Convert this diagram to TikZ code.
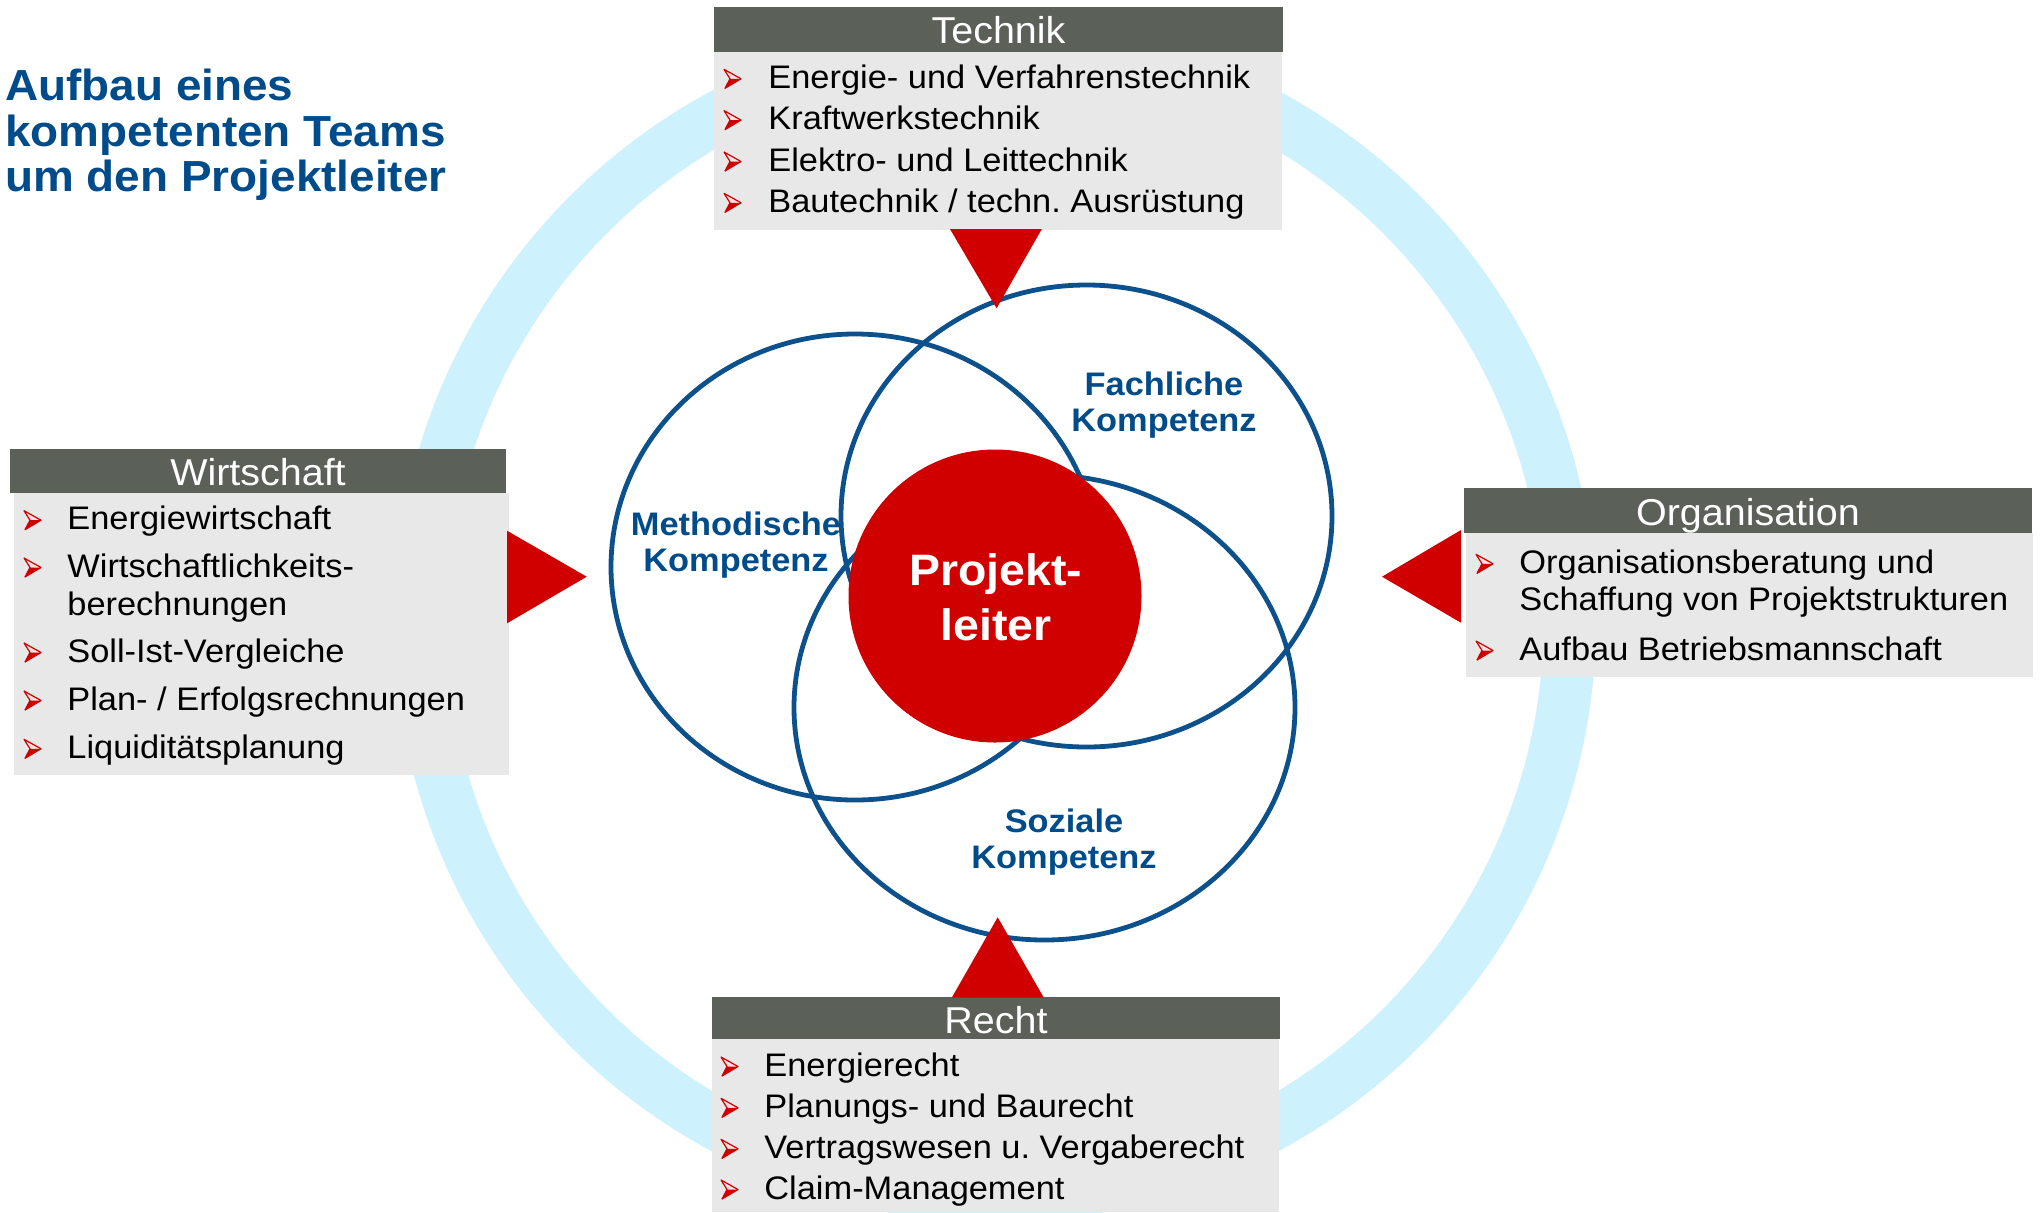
\documentclass[tikz,border=0pt]{standalone}
\usepackage{fontspec}
\setmainfont{Liberation Sans}[FakeStretch=1.055]
\definecolor{ringc}{RGB}{205,242,253}
\definecolor{hdr}{RGB}{91,97,89}
\definecolor{bodyc}{RGB}{232,232,232}
\definecolor{redc}{RGB}{208,0,0}
\definecolor{blu}{RGB}{0,76,138}
\definecolor{cline}{RGB}{12,80,140}
\tikzset{
  hdrbox/.style={fill=hdr},
  bodybox/.style={fill=bodyc},
  tri/.style={fill=redc},
  compc/.style={draw=cline, line width=2.4pt},
  hdrtxt/.style={text=white, font=\fontsize{18.7}{20}\selectfont, inner sep=0pt, anchor=base},
  itemtxt/.style={text=black, font=\fontsize{16.3}{18}\selectfont, inner sep=0pt, anchor=base west},
  lbl/.style={text=blu, font=\bfseries\fontsize{16.3}{18}\selectfont, inner sep=0pt, anchor=base},
  pltxt/.style={text=white, font=\bfseries\fontsize{22}{24}\selectfont, inner sep=0pt, anchor=base},
  ttl/.style={text=blu, font=\bfseries\fontsize{21.75}{23}\selectfont, inner sep=0pt, anchor=base west},
  bul/.pic={
    \fill[redc!12!white] (0,-19) -- (17,-9.5) -- (6,-9.5) -- cycle;
    \fill[redc] (1,0) -- (17,-9.5) -- (6,-9.5) -- cycle;
    \draw[redc, line width=0.6pt, line join=round] (0,-19) -- (17,-9.5) -- (1,0) -- (6,-9.5) -- cycle;
  }
}
\frenchspacing
\begin{document}
\frenchspacing
\begin{tikzpicture}[x=0.5pt, y=-0.5pt]
\useasboundingbox[fill=white] (0,0) rectangle (2040,1212);

% light ring
\draw[ringc, line width=26.25pt] (995,621) circle [radius=287.4pt];

% competence ellipses
\draw[compc] (855,567) ellipse [x radius=122pt, y radius=116.5pt];
\draw[compc] (1086.5,516) ellipse [x radius=122.75pt, y radius=115.5pt];
\draw[compc] (1044.5,707.5) ellipse [x radius=125.25pt, y radius=116.25pt];

% Projektleiter
\node (pl) [circle, fill=redc, minimum size=146.5pt, inner sep=0pt] at (995,596) {};
\node (pl1) [pltxt] at (996,585.8) {Projekt-};
\node (pl2) [pltxt] at (996,640.7) {leiter};

% competence labels
\node (m1) [lbl] at (736,535) {Methodische};
\node (m2) [lbl] at (736,571) {Kompetenz};
\node (f1) [lbl] at (1164,395) {Fachliche};
\node (f2) [lbl] at (1164,431) {Kompetenz};
\node (s1) [lbl] at (1064,832.7) {Soziale};
\node (s2) [lbl] at (1064,868.4) {Kompetenz};

% title
\node (t1) [ttl] at (5,100) {Aufbau eines};
\node (t2) [ttl] at (5,146) {kompetenten Teams};
\node (t3) [ttl] at (5,191.7) {um den Projektleiter};

% Technik box
\fill[bodybox] (714,52) rectangle (1282,229.5);
\fill[hdrbox] (714,7) rectangle (1283,52);
\node (th) [hdrtxt] at (998.5,43.3) {Technik};
\fill[tri] (950,229) -- (1041.8,229) -- (996.6,308.3) -- cycle;
\pic at (724,88.3) {bul};
\node (ti1) [itemtxt] at (768,88.3) {Energie- und Verfahrenstechnik};
\pic at (724,129.6) {bul};
\node (ti2) [itemtxt] at (768,129.6) {Kraftwerkstechnik};
\pic at (724,171) {bul};
\node (ti3) [itemtxt] at (768,171) {Elektro- und Leittechnik};
\pic at (724,212.3) {bul};
\node (ti4) [itemtxt] at (768,212.3) {Bautechnik / techn.\ Ausrüstung};

% Wirtschaft box
\fill[bodybox] (14,493) rectangle (509,775);
\fill[hdrbox] (9.6,449) rectangle (506,493);
\node (wh) [hdrtxt] at (258,485.7) {Wirtschaft};
\fill[tri] (507,530.7) -- (507,623.3) -- (586.7,576.7) -- cycle;
\pic at (24,529.7) {bul};
\node (wi1) [itemtxt] at (67,529.7) {Energiewirtschaft};
\pic at (24,577) {bul};
\node (wi2) [itemtxt] at (67,577) {Wirtschaftlichkeits-};
\node (wi2b) [itemtxt] at (67,615.4) {berechnungen};
\pic at (24,662) {bul};
\node (wi3) [itemtxt] at (67,662) {Soll-Ist-Vergleiche};
\pic at (24,710) {bul};
\node (wi4) [itemtxt] at (67,710) {Plan- / Erfolgsrechnungen};
\pic at (24,758.3) {bul};
\node (wi5) [itemtxt] at (67,758.3) {Liquiditätsplanung};

% Organisation box
\fill[bodybox] (1466,532.7) rectangle (2033,677);
\fill[hdrbox] (1464,488) rectangle (2032,532.7);
\node (oh) [hdrtxt] at (1748,525) {Organisation};
\fill[tri] (1461,530) -- (1461,622.7) -- (1382,576.7) -- cycle;
\pic at (1476,573.3) {bul};
\node (oi1) [itemtxt] at (1519,573.3) {Organisationsberatung und};
\node (oi1b) [itemtxt] at (1519,610) {Schaffung von Projektstrukturen};
\pic at (1476,660) {bul};
\node (oi2) [itemtxt] at (1519,660) {Aufbau Betriebsmannschaft};

% Recht box
\fill[bodybox] (712,1039) rectangle (1278.6,1212);
\fill[hdrbox] (712,997.3) rectangle (1280,1039);
\node (rh) [hdrtxt] at (996,1033.3) {Recht};
\fill[tri] (951.8,997.5) -- (1043.7,997.5) -- (997.7,917.3) -- cycle;
\pic at (721,1076) {bul};
\node (ri1) [itemtxt] at (764,1076) {Energierecht};
\pic at (721,1117.3) {bul};
\node (ri2) [itemtxt] at (764,1117.3) {Planungs- und Baurecht};
\pic at (721,1158.3) {bul};
\node (ri3) [itemtxt] at (764,1158.3) {Vertragswesen u.\ Vergaberecht};
\pic at (721,1199) {bul};
\node (ri4) [itemtxt] at (764,1199) {Claim-Management};
\end{tikzpicture}
\end{document}
